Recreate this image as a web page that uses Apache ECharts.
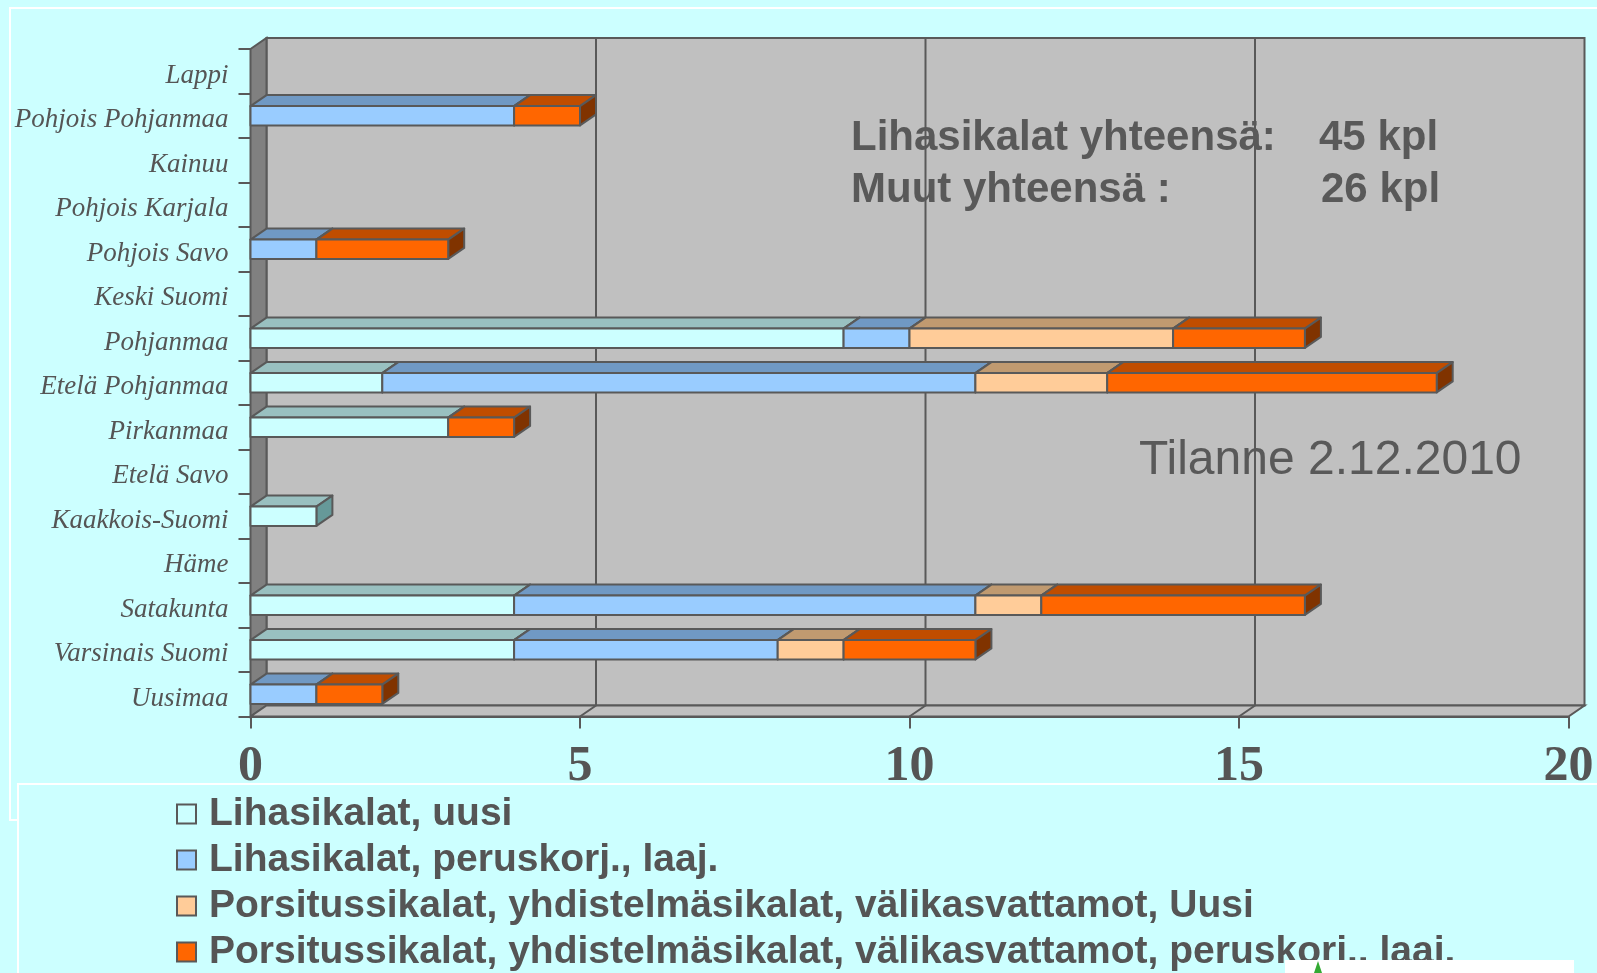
<!DOCTYPE html>
<html>
<head>
<meta charset="utf-8">
<script src="https://cdn.jsdelivr.net/npm/echarts@6/dist/echarts.min.js"></script>
<style>
html, body { margin: 0; padding: 0; background: #ccffff; }
#chart { width: 1597px; height: 973px; }
</style>
</head>
<body>
<div id="chart"></div>
<script>
// alueet ylhäältä alas
var categories = ['Lappi', 'Pohjois Pohjanmaa', 'Kainuu', 'Pohjois Karjala', 'Pohjois Savo', 'Keski Suomi',
    'Pohjanmaa', 'Etelä Pohjanmaa', 'Pirkanmaa', 'Etelä Savo', 'Kaakkois-Suomi', 'Häme',
    'Satakunta', 'Varsinais Suomi', 'Uusimaa'];
var seriesNames = ['Lihasikalat, uusi', 'Lihasikalat, peruskorj., laaj.',
    'Porsitussikalat, yhdistelmäsikalat, välikasvattamot, Uusi',
    'Porsitussikalat, yhdistelmäsikalat, välikasvattamot, peruskorj., laaj.'];
var lihaUusi  = [0, 0, 0, 0, 0, 0, 9, 2, 3, 0, 1, 0, 4, 4, 0];
var lihaPerus = [0, 4, 0, 0, 1, 0, 1, 9, 0, 0, 0, 0, 7, 4, 1];
var porsUusi  = [0, 0, 0, 0, 0, 0, 4, 2, 0, 0, 0, 0, 1, 1, 0];
var porsPerus = [0, 1, 0, 0, 2, 0, 2, 5, 1, 0, 0, 0, 4, 2, 1];
var xTicks = [0, 5, 10, 15, 20];

// värit: etupinta, yläpinta, sivu
var faceColors = [
    ['#ccffff', '#99c0c0', '#669999'],
    ['#99ccff', '#7099c4', '#4d7399'],
    ['#ffcc99', '#c09a70', '#997a5c'],
    ['#ff6600', '#c04d00', '#803300']
];
var EDGE = '#595959';
var DX = 16, DY = 11;

var chart = echarts.init(document.getElementById('chart'));

// pinotut arvot -> [kategoria, alku, loppu]
var allValues = [lihaUusi, lihaPerus, porsUusi, porsPerus];
function stackData(k) {
    var out = [];
    for (var i = 0; i < categories.length; i++) {
        var start = 0;
        for (var j = 0; j < k; j++) start += allValues[j][i];
        var v = allValues[k][i];
        if (v > 0) out.push([i, start, start + v]);
    }
    return out;
}

function barRender(colors) {
    return function (params, api) {
        var cat = api.value(0);
        var p0 = api.coord([api.value(1), cat]);
        var p1 = api.coord([api.value(2), cat]);
        var h = api.size([0, 1])[1] * 0.435;
        var yT = p0[1] - h / 2, yB = p0[1] + h / 2;
        var x0 = p0[0], x1 = p1[0];
        var st = { stroke: EDGE, lineWidth: 2, lineJoin: 'round' };
        return {
            type: 'group',
            children: [
                { type: 'polygon', shape: { points: [[x0, yT], [x0 + DX, yT - DY], [x1 + DX, yT - DY], [x1, yT]] },
                  style: echarts.util.extend({ fill: colors[1] }, st) },
                { type: 'polygon', shape: { points: [[x1, yT], [x1 + DX, yT - DY], [x1 + DX, yB - DY], [x1, yB]] },
                  style: echarts.util.extend({ fill: colors[2] }, st) },
                { type: 'rect', shape: { x: x0, y: yT, width: x1 - x0, height: h },
                  style: echarts.util.extend({ fill: colors[0] }, st) }
            ]
        };
    };
}

// takaseinä, vasen seinä ja lattia
function frameRender(params, api) {
    var r = params.coordSys;
    var L = r.x, T = r.y, R = r.x + r.width, B = r.y + r.height;
    var kids = [
        { type: 'rect', shape: { x: L + DX, y: T - DY, width: R - L, height: B - T },
          style: { fill: '#c0c0c0', stroke: EDGE, lineWidth: 2 } },
        { type: 'polygon', shape: { points: [[L, T], [L + DX, T - DY], [L + DX, B - DY], [L, B]] },
          style: { fill: '#808080', stroke: EDGE, lineWidth: 2 } },
        { type: 'polygon', shape: { points: [[L, B], [L + DX, B - DY], [R + DX, B - DY], [R, B]] },
          style: { fill: '#c0c0c0', stroke: EDGE, lineWidth: 2 } }
    ];
    for (var i = 1; i < xTicks.length - 1; i++) {
        var x = api.coord([xTicks[i], 0])[0];
        kids.push({ type: 'polyline', shape: { points: [[x + DX, T - DY], [x + DX, B - DY], [x, B]] },
            style: { fill: null, stroke: EDGE, lineWidth: 2 } });
    }
    return { type: 'group', children: kids };
}

var series = [{
    type: 'custom',
    name: 'frame',
    renderItem: frameRender,
    data: [[0, 0, 0]],
    encode: { x: 1, y: 0 },
    silent: true,
    z: 1
}];
for (var k = 0; k < 4; k++) {
    series.push({
        type: 'custom',
        name: seriesNames[k],
        renderItem: barRender(faceColors[k]),
        data: stackData(k),
        encode: { x: [1, 2], y: 0 },
        itemStyle: { color: faceColors[k][0] },
        z: 3
    });
}

var option = {
    backgroundColor: '#ccffff',
    animation: false,
    grid: { left: 250.5, right: 28.5, top: 49, bottom: 256.5 },
    xAxis: {
        type: 'value',
        min: 0, max: 20, interval: 5,
        axisLine: { show: true, lineStyle: { color: EDGE, width: 2 } },
        axisTick: { show: true, length: 12, lineStyle: { color: EDGE, width: 2 } },
        splitLine: { show: false },
        axisLabel: { margin: 26, color: '#555', fontFamily: 'Liberation Serif', fontWeight: 'bold', fontSize: 50 }
    },
    yAxis: {
        type: 'category',
        inverse: true,
        data: categories,
        axisLine: { show: true, lineStyle: { color: EDGE, width: 2 } },
        axisTick: { show: true, length: 12, lineStyle: { color: EDGE, width: 2 } },
        axisLabel: {
            margin: 22,
            formatter: function (v) { return '{a|' + v + '}'; },
            rich: {
                a: { color: '#555', fontFamily: 'Liberation Serif', fontStyle: 'italic', fontSize: 27,
                     padding: [9, 0, 0, 0] }
            }
        }
    },
    legend: {
        orient: 'vertical',
        left: 171, top: 786,
        height: 400,
        itemWidth: 19, itemHeight: 19,
        itemGap: 0,
        icon: 'rect',
        data: seriesNames.map(function (n, i) {
            return { name: n, itemStyle: { color: faceColors[i][0], borderColor: EDGE, borderWidth: 2 } };
        }),
        textStyle: { color: '#555', fontFamily: 'Liberation Sans', fontWeight: 'bold', fontSize: 39, lineHeight: 46, padding: [0, 0, 0, 8] }
    },
    graphic: [
        { type: 'rect', z: -10, shape: { x: 10, y: 8, width: 1600, height: 812 },
          style: { fill: null, stroke: '#ffffff', lineWidth: 2 } },
        { type: 'rect', z: -5, shape: { x: 18, y: 784, width: 1600, height: 200 },
          style: { fill: '#ccffff', stroke: '#ffffff', lineWidth: 2 } },
        { type: 'rect', z: 10, shape: { x: 1285, y: 960, width: 289, height: 20 },
          style: { fill: '#ffffff' } },
        { type: 'polygon', z: 11, shape: { points: [[1318, 961], [1322, 973], [1314, 973]] },
          style: { fill: '#33aa33' } },
        { type: 'text', z: 20, left: 851, top: 117,
          style: { text: 'Lihasikalat yhteensä:', fill: '#595959', font: 'bold 42px "Liberation Sans"' } },
        { type: 'text', z: 20, left: 1319, top: 117,
          style: { text: '45 kpl', fill: '#595959', font: 'bold 42px "Liberation Sans"' } },
        { type: 'text', z: 20, left: 851, top: 169,
          style: { text: 'Muut yhteensä :', fill: '#595959', font: 'bold 42px "Liberation Sans"' } },
        { type: 'text', z: 20, left: 1321, top: 169,
          style: { text: '26 kpl', fill: '#595959', font: 'bold 42px "Liberation Sans"' } },
        { type: 'text', z: 20, left: 1139, top: 437,
          style: { text: 'Tilanne 2.12.2010', fill: '#595959', font: '48px "Liberation Sans"' } }
    ],
    series: series
};

//渲染图表
if (option && typeof option === "object") {
    chart.setOption(option, true);
}
</script>
</body>
</html>
